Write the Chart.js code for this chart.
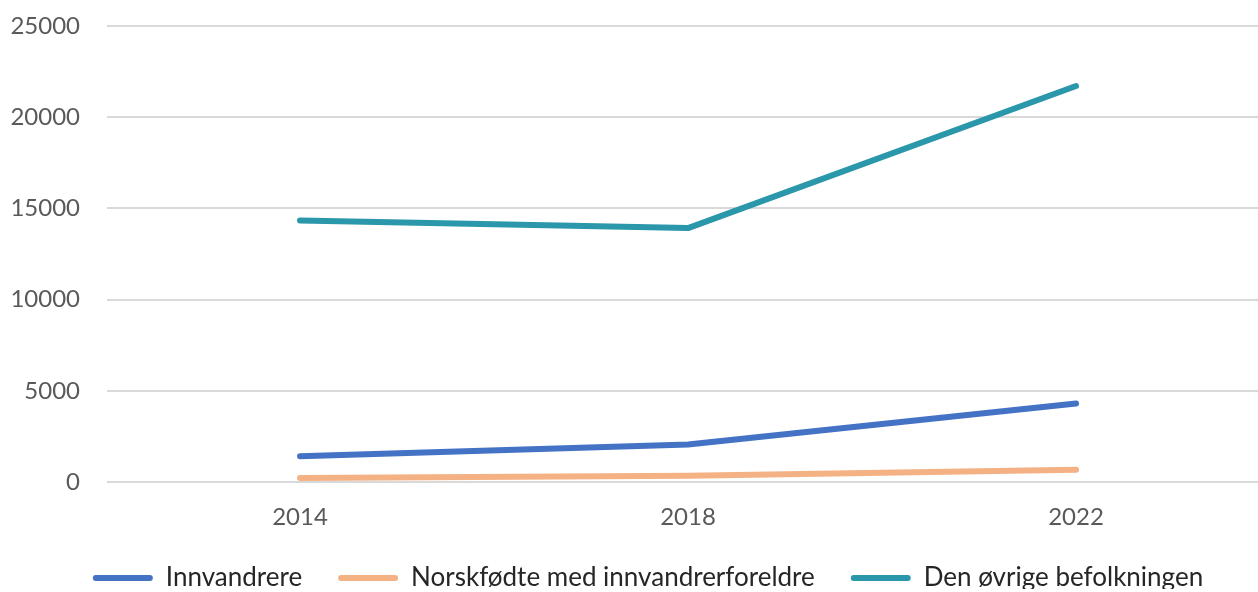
<!DOCTYPE html>
<html>
<head>
<meta charset="utf-8">
<script src="https://cdn.jsdelivr.net/npm/chart.js@4.4.1/dist/chart.umd.min.js"></script>
<style>
  html, body { margin: 0; padding: 0; background: #fff; overflow: hidden; }
  #wrap { width: 1258px; height: 592px; position: relative; }
</style>
</head>
<body>
<div id="wrap"><canvas id="grafico"></canvas></div>
<script>
// Datos del gráfico
const aar = [2014, 2018, 2022];
const innvandrere = [1410, 2060, 4300];
const norskfodte = [220, 340, 670];
const ovrige = [14330, 13920, 21710];
const yTicks = [0, 5000, 10000, 15000, 20000, 25000];

const serieNavn = ['Innvandrere', 'Norskfødte med innvandrerforeldre', 'Den øvrige befolkningen'];
const farger = ['#4472C4', '#F4B183', '#2A97AA'];

function punkter(verdier) {
    return aar.map((a, i) => ({ x: a, y: verdier[i] }));
}

const datasets = [innvandrere, norskfodte, ovrige].map((serie, i) => ({
    label: serieNavn[i],
    data: punkter(serie),
    borderColor: farger[i],
    backgroundColor: farger[i],
    borderWidth: 6,
    borderCapStyle: 'round',
    borderJoinStyle: 'round',
    pointRadius: 0,
    tension: 0
}));

// Desplaza la leyenda un poco (como en el original)
const flyttLegende = {
    id: 'flyttLegende',
    afterLayout(chart) {
        const lg = chart.legend;
        if (!lg) return;
        lg.left += 19; lg.right += 19;
        lg.top -= 3; lg.bottom -= 3;
    }
};

new Chart(document.getElementById('grafico'), {
    type: 'line',
    data: { datasets: datasets },
    plugins: [flyttLegende],
    options: {
        responsive: true,
        maintainAspectRatio: false,
        animation: false,
        layout: { padding: { top: 26, left: 0, right: 0, bottom: 0 } },
        plugins: {
            tooltip: { enabled: false },
            legend: {
                position: 'bottom',
                maxHeight: 60,
                labels: {
                    boxWidth: 60,
                    boxHeight: 6,
                    padding: 36,
                    useBorderRadius: true,
                    borderRadius: 3,
                    color: '#262626',
                    font: { family: 'Lato', size: 26 },
                    generateLabels: function(chart) {
                        const items = Chart.defaults.plugins.legend.labels.generateLabels(chart);
                        items.forEach(it => { it.lineWidth = 0; });
                        return items;
                    }
                }
            }
        },
        scales: {
            x: {
                type: 'linear',
                min: 2012.01,
                max: 2023.876,
                afterFit: function(scale) {
                    scale.height = 50;
                    scale.paddingLeft = 0; scale.paddingRight = 0;
                },
                afterBuildTicks: function(scale) {
                    scale.ticks = aar.map(v => ({ value: v }));
                },
                grid: { display: false, drawTicks: false },
                border: { display: false },
                ticks: {
                    color: '#595959',
                    font: { family: 'Lato', size: 24 },
                    padding: 21,
                    callback: v => String(v)
                }
            },
            y: {
                min: 0,
                max: 25000,
                afterFit: function(scale) {
                    scale.width = 107;
                    scale.paddingTop = 0; scale.paddingBottom = 0;
                },
                afterBuildTicks: function(scale) {
                    scale.ticks = yTicks.map(v => ({ value: v }));
                },
                grid: { color: '#d9d9d9', lineWidth: 2, drawTicks: false },
                border: { display: false },
                ticks: {
                    color: '#595959',
                    font: { family: 'Lato', size: 24 },
                    padding: 27,
                    callback: v => String(v)
                }
            }
        }
    }
});
</script>
</body>
</html>
